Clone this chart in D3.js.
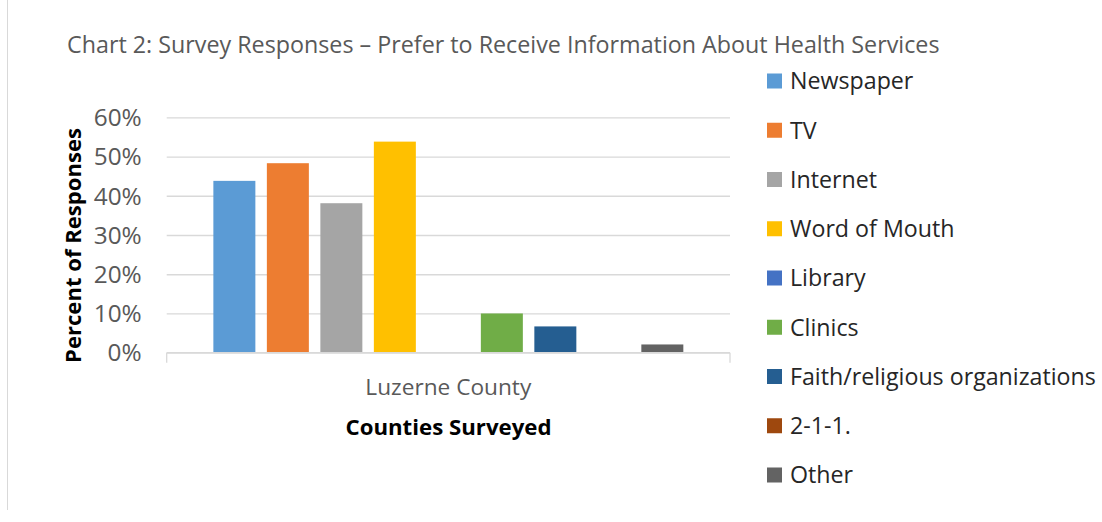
<!DOCTYPE html>
<html><head><meta charset="utf-8">
<script src="https://cdn.jsdelivr.net/npm/d3@7"></script>
<style>html,body{margin:0;padding:0;background:#fff;} svg{display:block;}</style>
</head><body>
<svg id="chart" width="1102" height="522"></svg>
<script>
const categories = ["Luzerne County"];
const seriesNames = ["Newspaper","TV","Internet","Word of Mouth","Library","Clinics","Faith/religious organizations","2-1-1.","Other"];
const seriesValues = [0.438, 0.483, 0.381, 0.538, 0, 0.100, 0.067, 0, 0.021];
const seriesColors = ["#5B9BD5","#ED7D31","#A5A5A5","#FFC000","#4472C4","#70AD47","#255E91","#9E480E","#636363"];
const yTicks = [0, 0.1, 0.2, 0.3, 0.4, 0.5, 0.6];
const titleText = "Chart 2: Survey Responses \u2013 Prefer to Receive Information About Health Services";
const yTitle = "Percent of Responses";
const xTitle = "Counties Surveyed";

const FONT = "'Open Sans', 'Liberation Sans', sans-serif";
const svg = d3.select("#chart");

function fit(sel, target){
  const n = sel.node();
  const fs = parseFloat(sel.attr("font-size"));
  const w = n.getComputedTextLength();
  if (w > 0) sel.attr("font-size", (fs * target / w).toFixed(2));
  return sel;
}

// left border
svg.append("line").attr("x1",7.5).attr("x2",7.5).attr("y1",0).attr("y2",510)
  .attr("stroke","#d9d9d9").attr("stroke-width",1);

const plot = {left:166.7, right:730, top:117.3, bottom:352.7};

const y = d3.scaleLinear().domain([0,0.6]).range([plot.bottom, plot.top]);
const x0 = d3.scaleBand().domain(categories).range([plot.left, plot.right]).paddingInner(0).paddingOuter(0.0993);
const x1 = d3.scaleBand().domain(seriesNames).range([0, x0.bandwidth()]).paddingInner(0.215).paddingOuter(0);
const color = d3.scaleOrdinal().domain(seriesNames).range(seriesColors);

// gridlines
const grid = svg.append("g").attr("transform",`translate(${plot.left},0)`)
  .call(d3.axisLeft(y).tickValues(yTicks).tickSize(-(plot.right-plot.left)).tickFormat(""));
grid.select(".domain").remove();
grid.selectAll(".tick line").attr("stroke","#d9d9d9").attr("stroke-width",1.3);

// y axis labels
const yAx = svg.append("g").attr("transform",`translate(${plot.left},0)`)
  .call(d3.axisLeft(y).tickValues(yTicks).tickSize(0).tickPadding(25).tickFormat(d3.format(".0%")));
yAx.select(".domain").remove();
yAx.selectAll("text").attr("font-family",FONT).attr("font-size",19.5).attr("fill","#595959").attr("dy","0.34em");
{
  const t60 = yAx.selectAll("text").filter(d => d === 0.6);
  const w = t60.node().getComputedTextLength();
  yAx.selectAll("text").attr("font-size", (19.5*48/w).toFixed(2));
}

// bars
const bars = svg.append("g");
categories.forEach(cat => {
  bars.selectAll("rect.s").data(seriesNames.map((s,i)=>({s, v:seriesValues[i]})))
    .enter().append("rect")
    .attr("x", d => x0(cat) + x1(d.s))
    .attr("width", x1.bandwidth())
    .attr("y", d => y(d.v))
    .attr("height", d => y(0) - y(d.v))
    .attr("fill", d => color(d.s));
});

// x axis baseline with edge ticks
const xAx = svg.append("g").attr("transform",`translate(0,${plot.bottom})`);
xAx.append("line").attr("x1",plot.left).attr("x2",plot.right).attr("y1",0).attr("y2",0)
  .attr("stroke","#d9d9d9").attr("stroke-width",1.3);
[plot.left, plot.right].forEach(xx => xAx.append("line").attr("x1",xx).attr("x2",xx).attr("y1",0).attr("y2",10)
  .attr("stroke","#d9d9d9").attr("stroke-width",1.3));
categories.forEach(cat => {
  const t = svg.append("text").attr("x", x0(cat)+x0.bandwidth()/2).attr("y",387).attr("dy","0.35em")
    .attr("text-anchor","middle").attr("font-family",FONT).attr("font-size",19).attr("fill","#595959").text(cat);
  fit(t,166);
});

// axis titles
const xt = svg.append("text").attr("x",448.5).attr("y",427).attr("dy","0.35em").attr("text-anchor","middle")
  .attr("font-family",FONT).attr("font-weight","bold").attr("font-size",19).attr("fill","#000").text(xTitle);
fit(xt,206);
const yt = svg.append("text").attr("transform","translate(73,245.5) rotate(-90)").attr("dy","0.35em").attr("text-anchor","middle")
  .attr("font-family",FONT).attr("font-weight","bold").attr("font-size",19).attr("fill","#000").text(yTitle);
fit(yt,235);

// title
const tt = svg.append("text").attr("x",67).attr("y",45).attr("dy","0.35em")
  .attr("font-family",FONT).attr("font-size",20).attr("fill","#595959").text(titleText);
fit(tt,873);

// legend
const legY = d3.scalePoint().domain(seriesNames).range([81, 475]);
const leg = svg.append("g");
seriesNames.forEach(s => {
  leg.append("rect").attr("x",767).attr("y",legY(s)-7.5).attr("width",15).attr("height",15).attr("fill",color(s));
  leg.append("text").attr("x",790).attr("y",legY(s)).attr("dy","0.36em")
    .attr("font-family",FONT).attr("font-size",21).attr("fill","#262626").text(s);
});
// scale legend font so the longest entry spans ~306px
const longest = leg.selectAll("text").filter(function(){ return this.textContent === "Faith/religious organizations"; });
const w0 = longest.node().getComputedTextLength();
leg.selectAll("text").attr("font-size", (21*306/w0).toFixed(2));
</script>
</body></html>
